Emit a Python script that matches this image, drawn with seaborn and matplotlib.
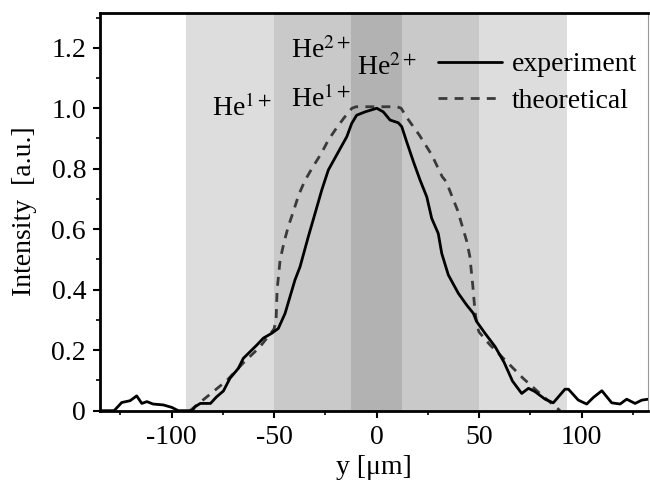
import numpy as np
import pandas as pd
import seaborn as sns
import matplotlib.pyplot as plt
from matplotlib.ticker import MultipleLocator

# ---- data ----
exp_y_pos = [-135, -128, -124.3, -120.2, -117, -114.5, -112, -109, -104, -99.9, -96.7,
             -90, -88.5, -86, -81, -78, -74.7, -71.5, -67.4, -65, -61.7, -58.4, -55.2,
             -51.1, -47.9, -44.6, -42.2, -39.8, -37.3, -33.3, -30, -26.7, -23.5, -18.6,
             -14.5, -12.1, -9.7, -5.6, 0.1, 3.3, 6.6, 10.6, 12.3, 14.7, 18, 21.2, 24.5,
             26.9, 30.1, 31.8, 35, 39.9, 44, 47.2, 48.9, 52.9, 57.8, 62.2, 66.3, 70.8,
             74.1, 77.3, 82.2, 86.2, 91.9, 93.6, 98.4, 102.5, 105.8, 109.9, 114.7, 118.8,
             122, 126.1, 129.4, 132.6]
exp_intensity = [0, 0, 0.027, 0.033, 0.049, 0.024, 0.03, 0.022, 0.019, 0.011, 0,
                 0, 0.013, 0.024, 0.024, 0.046, 0.065, 0.107, 0.14, 0.173, 0.195, 0.217, 0.24,
                 0.256, 0.272, 0.322, 0.377, 0.432, 0.476, 0.575, 0.652, 0.73, 0.796, 0.856,
                 0.906, 0.95, 0.977, 0.988, 1.0, 0.988, 0.961, 0.952, 0.939, 0.889, 0.823, 0.763, 0.707,
                 0.636, 0.586, 0.52, 0.449, 0.388, 0.349, 0.322, 0.294, 0.256, 0.212, 0.16, 0.098, 0.057,
                 0.074, 0.063, 0.038, 0.026, 0.071, 0.071, 0.035, 0.022, 0.044, 0.066, 0.026, 0.022,
                 0.038, 0.024, 0.035, 0.038]

theo_y_pos = [-91, -82, -73, -65, -57, -50, -49, -48.5, -47, -45, -43, -40.5, -38, -35,
              -31, -27, -23.5, -20, -16, -12, -10, 0, 10, 12, 15, 21, 27, 32, 34, 39.5,
              44, 45.5, 47, 48, 49, 50, 55, 63.5, 71.5, 80, 89.5]
theo_intensity = [0, 0.05, 0.10, 0.158, 0.21, 0.27, 0.30, 0.40, 0.50, 0.56, 0.61, 0.66, 0.713,
                  0.76, 0.807, 0.85, 0.895, 0.93, 0.967, 1.0, 1.005, 1.005, 1.005, 1.0, 0.967,
                  0.91, 0.845, 0.774, 0.757, 0.663, 0.56, 0.51, 0.41, 0.33, 0.28, 0.26, 0.22,
                  0.162, 0.107, 0.055, 0]

# shaded regions (half widths) and labels
band_edges = [93, 50, 12.5]
band_colors = ['#dddddd', '#c9c9c9', '#b2b2b2']
ion_labels = ['He$^{1+}$', 'He$^{2+}$', 'He$^{1+}$', 'He$^{2+}$']
ion_x = [-80.5, -41.5, -41.5, -9.5]
ion_y = [0.975, 1.165, 1.005, 1.11]

ytick_vals = [0, 0.2, 0.4, 0.6, 0.8, 1.0, 1.2]
ytick_labels = ['0', '0.2', '0.4', '0.6', '0.8', '1.0', '1.2']
xtick_vals = [-100, -50, 0, 50, 100]

exp_df = pd.DataFrame({'y': exp_y_pos, 'I': exp_intensity})
theo_df = pd.DataFrame({'y': theo_y_pos, 'I': theo_intensity})

sns.set_style('ticks')
plt.rcParams['font.family'] = ['Liberation Serif', 'DejaVu Serif']
plt.rcParams['mathtext.fontset'] = 'stix'
for key in ['text.color', 'axes.labelcolor', 'xtick.color', 'ytick.color']:
    plt.rcParams[key] = 'black'

FS = 20

fig = plt.figure(figsize=(6.5, 4.8), dpi=100)
ax = fig.add_axes([0.1538, 0.1444, 0.8431, 0.8292])

for half, col in zip(band_edges, band_colors):
    ax.axvspan(-half, half, color=col, lw=0, zorder=0)

sns.lineplot(data=exp_df, x='y', y='I', ax=ax, color='black', lw=2,
             label='experiment', sort=False, zorder=3)
sns.lineplot(data=theo_df, x='y', y='I', ax=ax, color='#3a3a3a', lw=2,
             linestyle=(0, (3.2, 2.6)), label='theoretical', sort=False, zorder=2)

for lab, tx, ty in zip(ion_labels, ion_x, ion_y):
    ax.text(tx, ty, lab, fontsize=FS, ha='left', va='baseline')

ax.set_xlim(-134.9, 132.4)
ax.set_ylim(0, 1.316)
ax.set_xticks(xtick_vals)
ax.set_xticklabels([str(v) for v in xtick_vals])
ax.xaxis.set_minor_locator(MultipleLocator(25))
ax.set_yticks(ytick_vals)
ax.set_yticklabels(ytick_labels)
ax.yaxis.set_minor_locator(MultipleLocator(0.1))
ax.tick_params(which='major', direction='out', length=5, width=1.5, labelsize=FS, pad=5)
ax.tick_params(which='minor', direction='out', length=3, width=1.2)

ax.set_xlabel('y [μm]', fontsize=FS, labelpad=4)
ax.set_ylabel('Intensity  [a.u.]', fontsize=FS, labelpad=10)

for side in ['left', 'bottom', 'top']:
    ax.spines[side].set_linewidth(2)
    ax.spines[side].set_color('black')
ax.spines['right'].set_linewidth(0.8)
ax.spines['right'].set_color('#999999')
ax.spines['top'].set_visible(True)
ax.spines['right'].set_visible(True)

leg = ax.legend(loc='upper right', frameon=False, fontsize=FS, handlelength=2.3,
                handletextpad=0.35, borderaxespad=0.3, labelspacing=0.4,
                bbox_to_anchor=(1.015, 0.95))

fig.savefig('out.png', dpi=100)
